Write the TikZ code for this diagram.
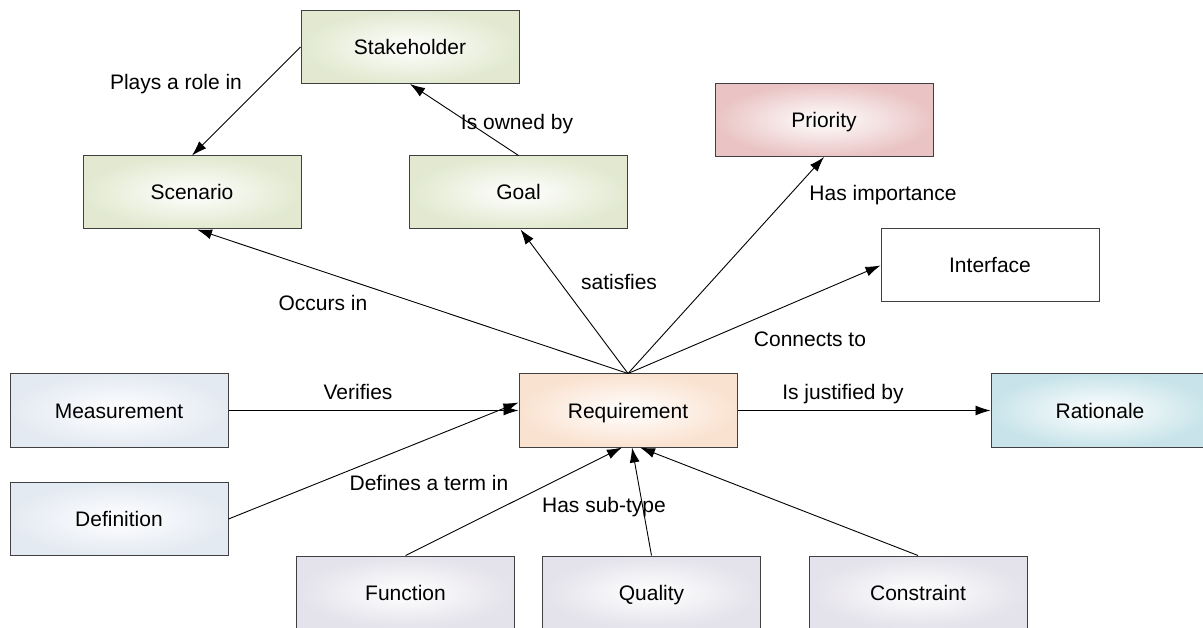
\documentclass[tikz,border=0pt]{standalone}
\usepackage{fontspec}
\setmainfont{Liberation Sans}
\usetikzlibrary{arrows.meta,calc}
\definecolor{cgreen}{RGB}{226,233,208}
\definecolor{cpink}{RGB}{234,196,196}
\definecolor{cpeach}{RGB}{250,226,208}
\definecolor{cblue}{RGB}{228,234,242}
\definecolor{cgray}{RGB}{228,226,234}
\definecolor{ccyan}{RGB}{200,228,234}
\definecolor{cborder}{RGB}{64,64,64}
\tikzset{
  box/.style={draw=cborder, line width=1pt, minimum width=218pt, minimum height=73pt,
    inner sep=0pt, text height=15pt, text depth=0pt, font=\fontsize{21}{24}\selectfont},
  shadebox/.style={box, inner color=white, outer color=#1},
  lbl/.style={font=\fontsize{21}{24}\selectfont, inner sep=0pt, text height=15pt, text depth=0pt},
  conn/.style={line width=0.9pt, -{Latex[length=15pt,width=10pt]}}
}
\begin{document}
\begin{tikzpicture}[x=1pt,y=-1pt]
\useasboundingbox (0,0) rectangle (1203,628);
\fill[white] (0,0) rectangle (1203,628);
\node[shadebox=cgreen] (stake) at (410,47) {Stakeholder};
\node[shadebox=cgreen] (scen) at (192,192.5) {Scenario};
\node[shadebox=cgreen] (goal) at (518.5,192.5) {Goal};
\node[shadebox=cpink] (prio) at (824,120) {Priority};
\node[box, fill=white] (intf) at (990,265.5) {Interface};
\node[shadebox=cpeach] (req) at (628,410.5) {Requirement};
\node[shadebox=cblue] (meas) at (119,410.5) {Measurement};
\node[shadebox=ccyan] (rat) at (1100,410.5) {Rationale};
\node[shadebox=cblue] (defn) at (119,519) {Definition};
\node[shadebox=cgray] (func) at (405.5,592.5) {Function};
\node[shadebox=cgray] (qual) at (651.5,592.5) {Quality};
\node[shadebox=cgray] (cons) at (918,592.5) {Constraint};

\draw[conn] (stake.west) -- (scen.north);
\draw[conn] (goal.north) -- (stake.south);
\draw[conn] (req.north) -- ($(scen.south)+(5,0)$);
\draw[conn] (req.north) -- ($(goal.south)+(2,0)$);
\draw[conn] (req.north) -- (prio.south);
\draw[conn] (req.north) -- (intf.west);
\draw[conn] (req.east) -- (rat.west);
\draw[conn] (meas.east) -- (req.west);
\draw[conn] (defn.east) -- ($(req.west)+(0,-8)$);
\draw[conn] (func.north) -- ($(req.south)+(-6,0)$);
\draw[conn] (qual.north) -- ($(req.south)+(4,0)$);
\draw[conn] (cons.north) -- ($(req.south)+(12,0)$);

\node[lbl] (l1) at (176,82) {Plays a role in};
\node[lbl] (l2) at (517,122) {Is owned by};
\node[lbl] (l3) at (883,193) {Has importance};
\node[lbl] (l4) at (619,282) {satisfies};
\node[lbl] (l5) at (323,303) {Occurs in};
\node[lbl] (l6) at (810,339) {Connects to};
\node[lbl] (l7) at (358,392) {Verifies};
\node[lbl] (l8) at (843,392) {Is justified by};
\node[lbl] (l9) at (429,483) {Defines a term in};
\node[lbl] (l10) at (604,505) {Has sub-type};
\end{tikzpicture}
\end{document}
